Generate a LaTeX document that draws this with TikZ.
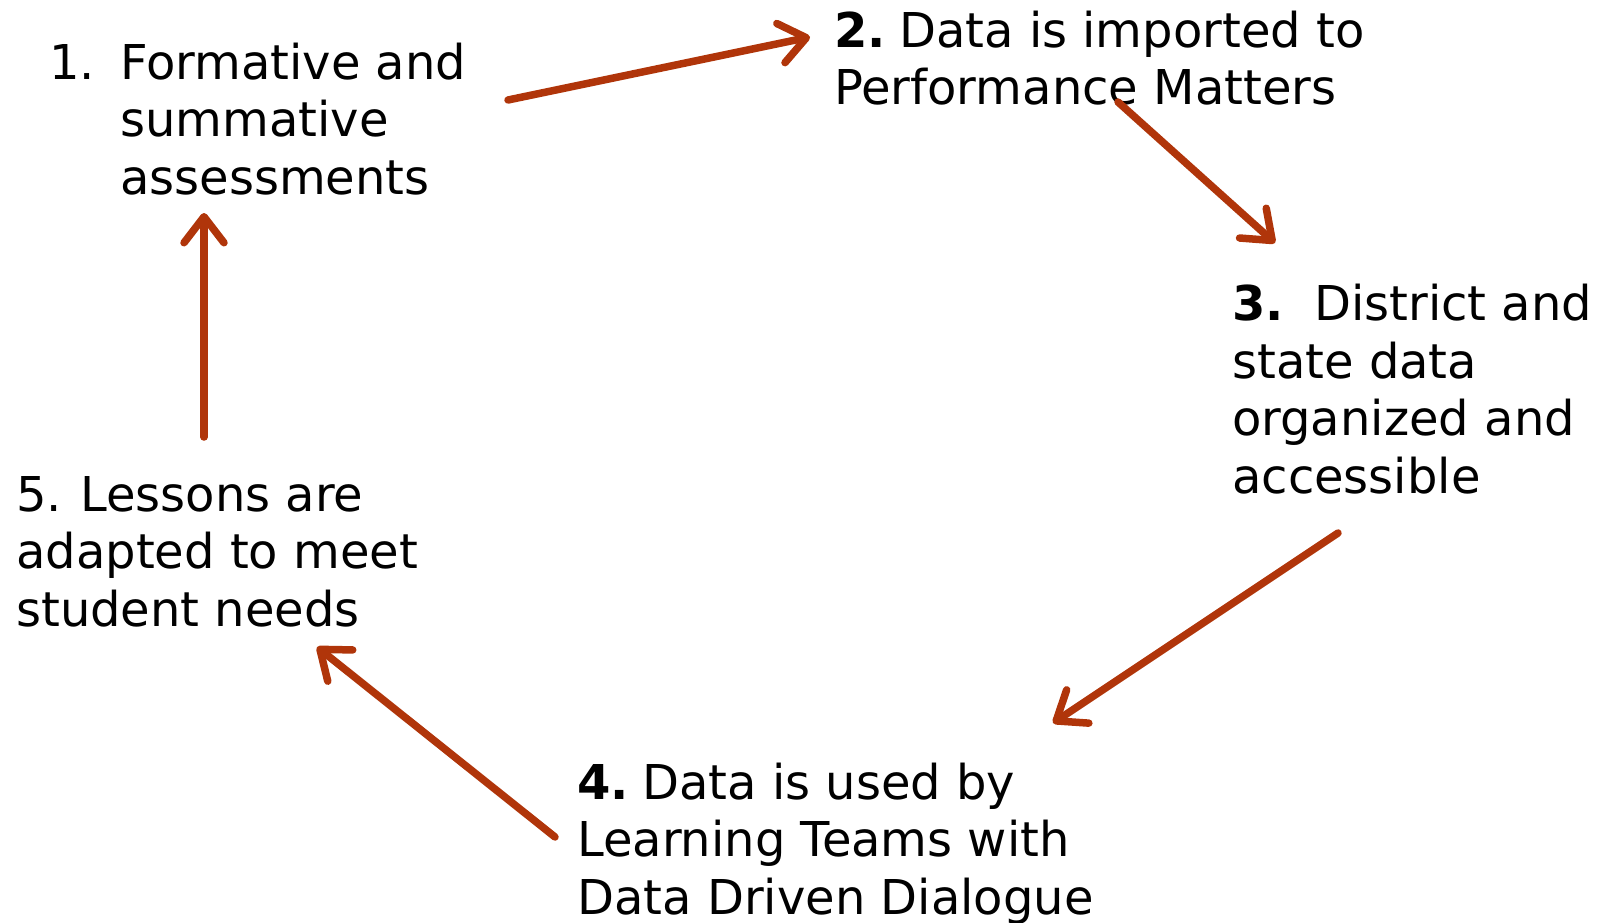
\documentclass[tikz,border=0pt]{standalone}
\usepackage{fontspec}
\setmainfont{DejaVu Sans}
\usetikzlibrary{arrows.meta}
\definecolor{rust}{RGB}{176,53,10}
\begin{document}
\begin{tikzpicture}[x=1pt,y=-1pt,
  lbl/.style={anchor=base west, align=left, inner sep=0pt, font=\fontsize{48}{57.5}\selectfont},
  conn/.style={draw=rust, line width=7.5pt, line cap=round,
    -{Straight Barb[length=26pt, width=40pt, line width=7.5pt, round]}}]
\useasboundingbox (0,0) rectangle (1610,923);
\node[lbl] (n1) at (49,194) {\makebox[71pt][l]{1.}Formative and\\\hspace*{71pt}summative\\\hspace*{71pt}assessments};
\node[lbl] (n2) at (834,105) {\textbf{2.} \hspace{-7pt}Data is imported to\\Performance Matters};
\node[lbl] (n3) at (1232,493) {\textbf{3.}\ \ District and\\state data\\organized and\\accessible};
\node[lbl] (n4) at (577,914) {\textbf{4.} \hspace{-7pt}Data is used by\\Learning Teams with\\Data Driven Dialogue};
\node[lbl] (n5) at (16,626) {5. \hspace{-2pt}Lessons are\\adapted to meet\\student needs};
\coordinate (a1s) at (508,100); \coordinate (a1e) at (810,37);
\coordinate (a2s) at (1118,102); \coordinate (a2e) at (1275,243);
\coordinate (a3s) at (1338,533); \coordinate (a3e) at (1053,723);
\coordinate (a4s) at (555,837); \coordinate (a4e) at (317,647);
\coordinate (a5s) at (204,437); \coordinate (a5e) at (204,213);
\draw[conn] (a1s) -- (a1e);
\draw[conn] (a2s) -- (a2e);
\draw[conn] (a3s) -- (a3e);
\draw[conn] (a4s) -- (a4e);
\draw[conn] (a5s) -- (a5e);
\end{tikzpicture}
\end{document}
